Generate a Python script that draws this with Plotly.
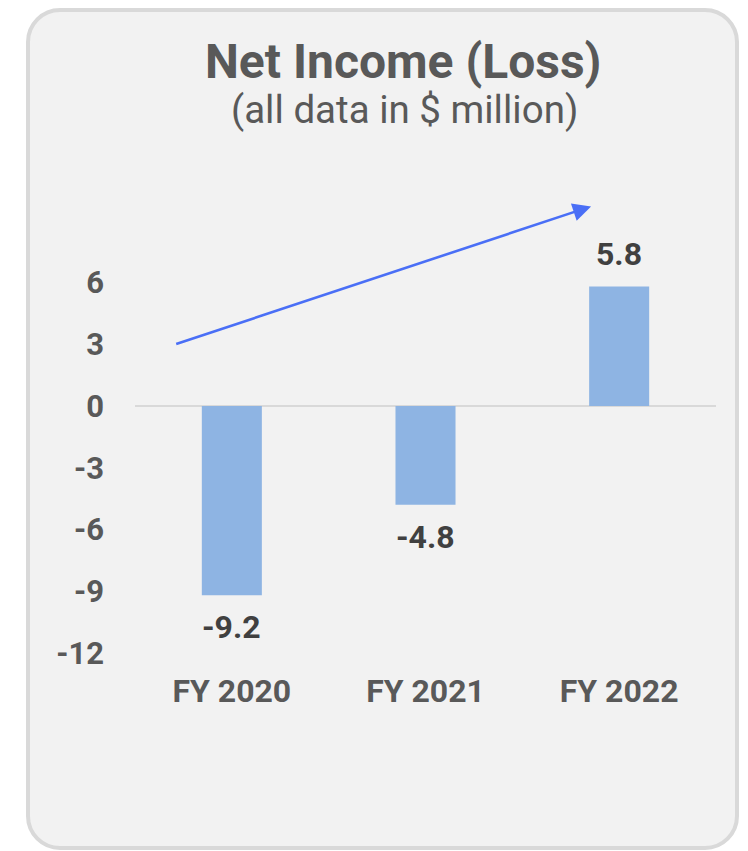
import plotly.graph_objects as go

# ---- data ----
categories = ["FY 2020", "FY 2021", "FY 2022"]
net_income = [-9.2, -4.8, 5.8]
y_ticks = [6, 3, 0, -3, -6, -9, -12]
title_text = "Net Income (Loss)"
subtitle_text = "(all data in $ million)"

# ---- layout geometry (pixels) ----
W, H = 748, 851
L, R, T, B = 135, 32, 200, 198
PW, PH = W - L - R, H - T - B


def px(x):
    return (x - L) / PW


def py(y):
    return (H - B - y) / PH


BAR = "#8eb4e3"
DARK = "#595959"
LABEL = "#404040"
ARROW = "#4a6ff6"

fig = go.Figure()
fig.add_trace(go.Bar(
    x=categories, y=net_income, width=0.31,
    marker=dict(color=BAR, line=dict(width=0)),
    hoverinfo="skip", showlegend=False,
))

# value labels
for c, v in zip(categories, net_income):
    fig.add_annotation(
        x=c, y=v, xref="x", yref="y", text=f"<b>{v:.1f}</b>", showarrow=False,
        yanchor="middle", yshift=32 if v >= 0 else -32,
        font=dict(family="Roboto", size=32, color=LABEL),
    )

# trend arrow (category units / value units)
fig.add_annotation(
    x=1.855, y=9.69, ax=-0.295, ay=2.98, xref="x", yref="y", axref="x", ayref="y",
    text="", showarrow=True, arrowhead=2, arrowsize=1.4, arrowwidth=2.6,
    arrowcolor=ARROW,
)

# titles
fig.add_annotation(x=px(403), y=py(61), xref="paper", yref="paper",
                   text=f"<b>{title_text}</b>", showarrow=False,
                   xanchor="center", yanchor="middle",
                   font=dict(family="Roboto", size=48, color=DARK))
fig.add_annotation(x=px(404), y=py(109), xref="paper", yref="paper",
                   text=subtitle_text, showarrow=False,
                   xanchor="center", yanchor="middle",
                   font=dict(family="Roboto", size=38.5, color=DARK))

# rounded background card
x0, x1, y0, y1, r = 28, 737, 10, 848, 32
k = 0.5523 * r
path = (
    f"M {px(x0 + r)},{py(y0)} L {px(x1 - r)},{py(y0)} "
    f"C {px(x1 - r + k)},{py(y0)} {px(x1)},{py(y0 + r - k)} {px(x1)},{py(y0 + r)} "
    f"L {px(x1)},{py(y1 - r)} "
    f"C {px(x1)},{py(y1 - r + k)} {px(x1 - r + k)},{py(y1)} {px(x1 - r)},{py(y1)} "
    f"L {px(x0 + r)},{py(y1)} "
    f"C {px(x0 + r - k)},{py(y1)} {px(x0)},{py(y1 - r + k)} {px(x0)},{py(y1 - r)} "
    f"L {px(x0)},{py(y0 + r)} "
    f"C {px(x0)},{py(y0 + r - k)} {px(x0 + r - k)},{py(y0)} {px(x0 + r)},{py(y0)} Z"
)
fig.add_shape(type="path", path=path, xref="paper", yref="paper", layer="below",
              fillcolor="#f2f2f2", line=dict(color="#d9d9d9", width=4))

fig.update_layout(
    width=W, height=H, margin=dict(l=L, r=R, t=T, b=B, pad=0),
    paper_bgcolor="white", plot_bgcolor="rgba(0,0,0,0)",
    font=dict(family="Roboto", color=DARK),
    showlegend=False,
)
fig.update_xaxes(
    showgrid=False, showline=False, ticks="",
    tickfont=dict(family="Roboto", size=32, color=DARK),
    ticklabelstandoff=16, fixedrange=True,
    tickprefix="<b>", ticksuffix="</b>",
)
fig.update_yaxes(
    range=[-12, 10], tickvals=y_ticks, ticktext=[f"<b>{t}</b>" for t in y_ticks],
    showgrid=False, showline=False, ticks="",
    zeroline=True, zerolinecolor="#d9d9d9", zerolinewidth=2,
    tickfont=dict(family="Roboto", size=31, color=DARK),
    ticklabelstandoff=30, fixedrange=True,
)

fig.write_html("out.html", config={"displayModeBar": False})
